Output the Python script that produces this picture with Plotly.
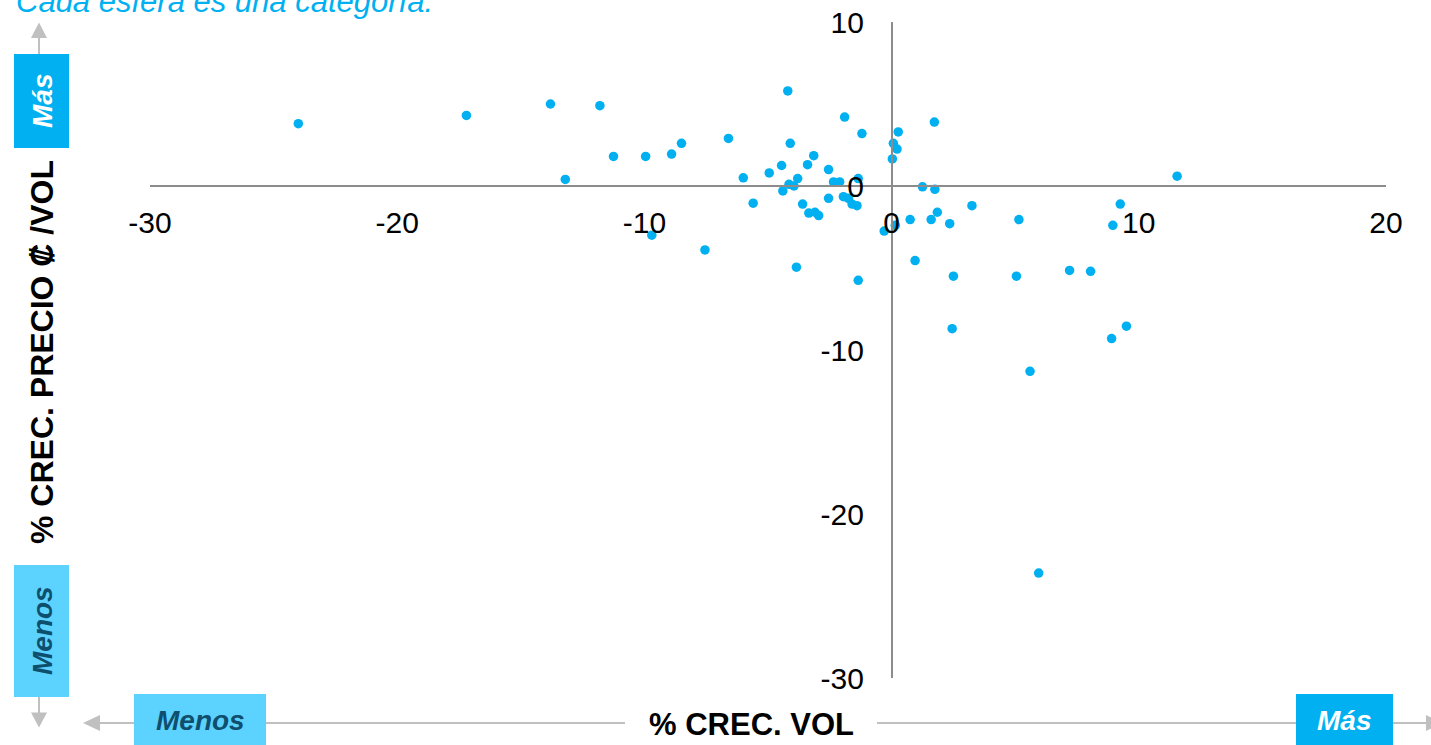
import plotly.graph_objects as go

# % volume growth (x) and % price-per-volume growth (y), one point per category
crec_vol = [
    -24.0, -17.2, -13.8, -11.8, -13.2, -11.25, -9.95, -8.9, -8.5, -9.7,
    -7.55, -6.6, -6.0, -5.6, -4.2, -4.1, -1.9, -1.2, 0.27, 0.07,
    0.22, 0.03, 1.73, -4.95, -4.45, -3.4, -3.15, -3.8, -4.15, -3.95,
    -4.4, -2.55, -2.35, -2.1, -1.35, -3.6, -2.55, -1.95, -1.75, -1.6,
    -1.4, -3.35, -3.1, -2.95, 1.25, 1.75, 1.85, 0.75, 1.6, 2.35,
    0.15, -0.3, -3.85, -1.35, 11.55, 3.25, 9.25, 5.15, 8.95, 0.95,
    2.5, 5.05, 7.2, 8.05, 2.45, 9.5, 8.9, 5.6, 5.95,
]
crec_precio = [
    3.8, 4.3, 5.0, 4.9, 0.4, 1.8, 1.8, 1.95, 2.6, -3.0,
    -3.9, 2.9, 0.5, -1.05, 5.8, 2.6, 4.2, 3.2, 3.3, 2.6,
    2.25, 1.65, 3.9, 0.8, 1.25, 1.3, 1.85, 0.45, 0.1, 0.0,
    -0.3, 1.0, 0.25, 0.25, 0.45, -1.1, -0.75, -0.65, -0.75, -1.1,
    -1.2, -1.65, -1.6, -1.8, -0.05, -0.2, -1.6, -2.05, -2.05, -2.3,
    -2.4, -2.75, -4.95, -5.75, 0.6, -1.2, -1.1, -2.05, -2.4, -4.55,
    -5.5, -5.5, -5.15, -5.2, -8.7, -8.55, -9.3, -11.3, -23.6,
]
x_ticks = [-30, -20, -10, 0, 10, 20]
y_ticks = [10, 0, -10, -20, -30]
x_tick_text = ["-30", "-20", "-10", "0", "10", "20"]
y_tick_text = ["10", "0", "-10", "-20", "-30"]

W, H = 1431, 745
ML, MR, MT, MB = 150, 45, 22, 67
PW, PH = W - ML - MR, H - MT - MB

BLUE = "#00B0F0"
LIGHT_BLUE = "#5CD2FF"
DARK_TEXT = "#0F4F6E"
ARROW_GRAY = "#C0C0C0"
AXIS_GRAY = "#8C8C8C"
FONT = "Arial, Liberation Sans, sans-serif"


def fx(px):
    """Pixel column -> paper x."""
    return (px - ML) / PW


def fy(py):
    """Pixel row -> paper y."""
    return (H - MB - py) / PH


fig = go.Figure(
    go.Scatter(
        x=crec_vol,
        y=crec_precio,
        mode="markers",
        marker=dict(color=BLUE, size=9.5, line=dict(width=0)),
        hoverinfo="skip",
    )
)

shapes = []
annotations = []


def rect(x0, y0, x1, y1, color):
    shapes.append(dict(type="rect", xref="paper", yref="paper",
                       x0=fx(x0), x1=fx(x1), y0=fy(y0), y1=fy(y1),
                       fillcolor=color, line=dict(width=0), layer="above"))


def seg(x0, y0, x1, y1):
    shapes.append(dict(type="line", xref="paper", yref="paper",
                       x0=fx(x0), x1=fx(x1), y0=fy(y0), y1=fy(y1),
                       line=dict(color=ARROW_GRAY, width=2)))


def tri(points):
    path = "M " + " L ".join(f"{fx(a):.5f},{fy(b):.5f}" for a, b in points) + " Z"
    shapes.append(dict(type="path", xref="paper", yref="paper", path=path,
                       fillcolor=ARROW_GRAY, line=dict(width=0)))


def label(x, y, text, size, color, bold=True, italic=True, angle=0, anchor="center"):
    t = text
    if bold:
        t = f"<b>{t}</b>"
    if italic:
        t = f"<i>{t}</i>"
    annotations.append(dict(xref="paper", yref="paper", x=fx(x), y=fy(y),
                            text=t, showarrow=False, textangle=angle,
                            xanchor=anchor, yanchor="middle",
                            font=dict(family=FONT, size=size, color=color)))


# vertical guide (price axis)
seg(39, 37, 39, 54)
seg(39, 697, 39, 713)
tri([(39, 22.5), (31, 38), (47, 38)])
tri([(39, 727.5), (31, 712.5), (47, 712.5)])
rect(14, 54, 69, 148, BLUE)
rect(14, 565, 69, 697, LIGHT_BLUE)
label(42, 101, "Más", 28, "white", angle=-90)
label(42, 631, "Menos", 28, DARK_TEXT, angle=-90)
label(42, 352, "% CREC. PRECIO ₡ /VOL", 32, "black", italic=False, angle=-90)

# horizontal guide (volume axis)
seg(99, 723, 134, 723)
seg(266, 723, 625, 723)
seg(877, 723, 1296, 723)
seg(1393, 723, 1427, 723)
tri([(83, 723), (100, 715), (100, 731)])
tri([(1442, 723), (1426, 715), (1426, 731)])
rect(134, 694, 266, 750, LIGHT_BLUE)
rect(1296, 694, 1393, 750, BLUE)
label(200, 721, "Menos", 28, DARK_TEXT)
label(1344, 721, "Más", 28, "white")
label(751, 724, "% CREC. VOL", 31, "black", italic=False)

# caption
label(14, 1, "Cada esfera es una categoría.", 31, BLUE, bold=False, anchor="left")

axis_common = dict(
    showgrid=False,
    zeroline=False,
    showline=True,
    linecolor=AXIS_GRAY,
    linewidth=1.5,
    ticks="outside",
    tickcolor="rgba(0,0,0,0)",
    tickfont=dict(family=FONT, size=30, color="black"),
    fixedrange=True,
    automargin=False,
)

fig.update_layout(
    width=W,
    height=H,
    margin=dict(l=ML, r=MR, t=MT, b=MB, pad=0, autoexpand=False),
    paper_bgcolor="white",
    plot_bgcolor="white",
    showlegend=False,
    xaxis=dict(axis_common, range=[-30, 20], tickvals=x_ticks, ticktext=x_tick_text,
               ticklen=10, anchor="free", position=0.75),
    yaxis=dict(axis_common, range=[-30, 10], tickvals=y_ticks, ticktext=y_tick_text,
               ticklen=21, anchor="free", position=0.6),
    shapes=shapes,
    annotations=annotations,
)

fig.write_html("out.html", config={"displayModeBar": False})
